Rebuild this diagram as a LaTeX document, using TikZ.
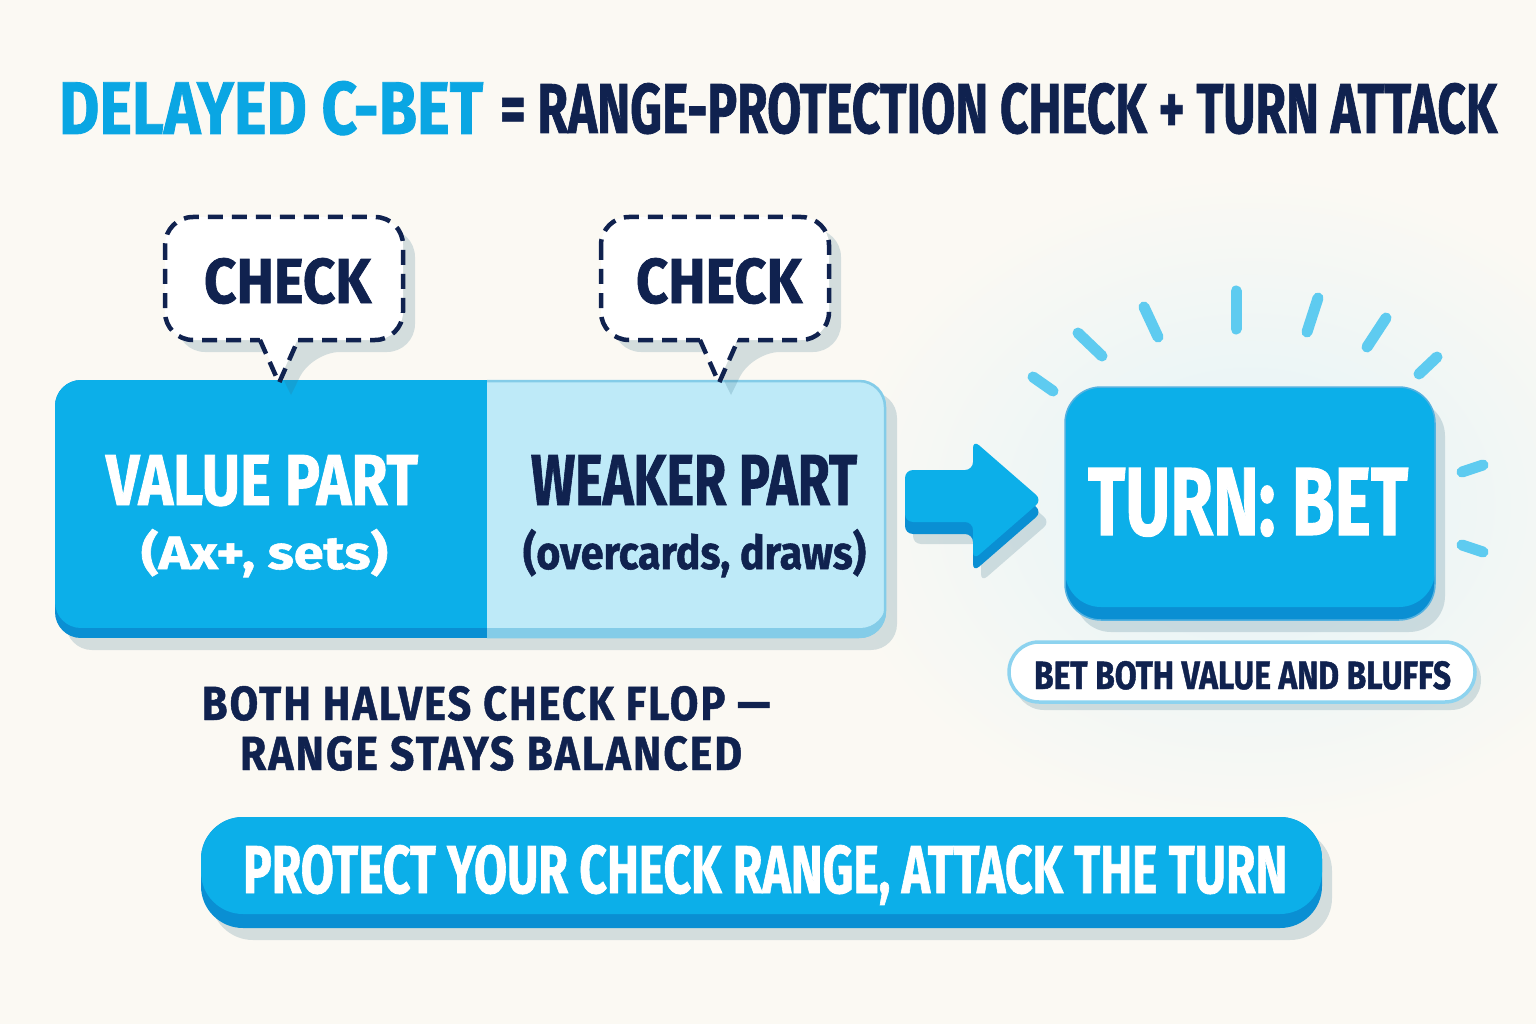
\documentclass[tikz,border=0pt]{standalone}
\usepackage{fontspec}
\usepackage{graphicx}
\setmainfont{Fira Sans}
\newfontfamily\hv{Fira Sans Bold}[FakeBold=1.2]
\newfontfamily\hvs{Fira Sans Bold}[FakeBold=1.0,LetterSpace=5]
\definecolor{bg}{HTML}{FBF9F3}
\definecolor{cy}{HTML}{0CAFE9}
\definecolor{cydark}{HTML}{0A8FD3}
\definecolor{cytitle}{HTML}{0AA6E3}
\definecolor{lt}{HTML}{BEEAF8}
\definecolor{ltdark}{HTML}{84CCE8}
\definecolor{navy}{HTML}{10224F}
\definecolor{raycol}{HTML}{5ECBF0}
\definecolor{shadowc}{HTML}{336D85}
\definecolor{glowc}{HTML}{E2F3F8}
\definecolor{capborder}{HTML}{8DD3EF}
\newcommand\fitc[3]{\resizebox{#1pt}{#2pt}{\hv #3}}
\newcommand\fits[3]{\resizebox{#1pt}{#2pt}{\hvs #3}}
\tikzset{
  txt/.style={inner sep=0pt, outer sep=0pt, anchor=base west},
  ray/.style={draw=raycol, line width=11pt, line cap=round},
  bubble/.style={draw=navy, line width=4.5pt, dash pattern=on 15pt off 9pt},
  shadowfill/.style={fill=shadowc, fill opacity=0.2},
}
\begin{document}
\begin{tikzpicture}[x=1pt,y=-1pt]
\fill[bg] (0,0) rectangle (1536,1024);
\useasboundingbox (0,0) rectangle (1536,1024);

% soft glow behind turn box
\shade[inner color=glowc, outer color=bg] (1250,505) ellipse [x radius=420, y radius=330];

% title
\node[txt, text=cytitle] (t1) at (59,134) {\fitc{424}{53}{DELAYED C-BET}};
\node[txt, text=navy] (t2) at (500,133) {\fitc{997}{50}{= RANGE-PROTECTION CHECK + TURN ATTACK}};

% main bar
\fill[shadowfill, rounded corners=26] (66,392) rectangle (897,650);
\begin{scope}
  \clip[rounded corners=26] (55,380) rectangle (886,638);
  \fill[cydark] (55,380) rectangle (487,638);
  \fill[ltdark] (487,380) rectangle (886,638);
  \clip[rounded corners=26] (55,380) rectangle (886,628);
  \fill[cy] (55,380) rectangle (487,628);
  \fill[lt] (487,380) rectangle (886,628);
\end{scope}
\begin{scope}
  \clip (487,370) rectangle (900,650);
  \draw[ltdark, line width=2.5pt, rounded corners=26] (55,381) rectangle (885,637);
\end{scope}
\node[txt, text=white] (v1) at (106,505) {\fitc{312}{50}{VALUE PART}};
\node[txt, text=white] (v2) at (141,569) {\fitc{247}{40}{(Ax+, sets)}};
\node[txt, text=navy] (w1) at (531,505) {\fitc{326}{50}{WEAKER PART}};
\node[txt, text=navy] (w2) at (523,569) {\fitc{343}{40}{(overcards, draws)}};

% left bubble
\fill[shadowfill, rounded corners=28] (177,229) -- (415,229) -- (415,352) -- (312,352) [sharp corners] -- (291,395) -- (270,352) [rounded corners=28] -- (177,352) -- cycle;
\draw[bubble, fill=white, rounded corners=28] (165,217) rectangle (403,340);
\fill[white] (258,334) -- (300,334) -- (279,381) -- cycle;
\draw[bubble, line join=round] (260,340) -- (279,383) -- (298,340);
\node[txt, text=navy] (c1) at (204,303) {\fitc{167}{45}{CHECK}};

% right bubble
\fill[shadowfill, rounded corners=28] (613,229) -- (841,229) -- (841,352) -- (752,352) [sharp corners] -- (731,395) -- (710,352) [rounded corners=28] -- (613,352) -- cycle;
\draw[bubble, fill=white, rounded corners=28] (601,217) rectangle (829,340);
\fill[white] (698,334) -- (740,334) -- (719,381) -- cycle;
\draw[bubble, line join=round] (700,340) -- (719,383) -- (738,340);
\node[txt, text=navy] (c2) at (636,303) {\fitc{166}{45}{CHECK}};

% block arrow
\def\arrowpath{(905,470) -- (973,470) -- (973,440) -- (1042,500) -- (973,560) -- (973,522) -- (905,522) -- cycle}
\fill[shadowfill, rounded corners=8, shift={(8,22)}] \arrowpath;
\fill[cydark, rounded corners=8, shift={(0,12)}] \arrowpath;
\fill[cy, rounded corners=8] \arrowpath;

% turn box
\fill[shadowfill, rounded corners=36] (1075,400) rectangle (1445,632);
\fill[cydark, rounded corners=36] (1065,387) rectangle (1435,620);
\fill[cy, rounded corners=36] (1065,387) rectangle (1435,607);
\draw[cydark!70, line width=1.5pt, rounded corners=36] (1065,387) rectangle (1435,620);
\node[txt, text=white] (tb) at (1088,535) {\fitc{320}{67}{TURN: BET}};

% rays
\draw[ray] (1033,377) -- (1053,391);
\draw[ray] (1078,333) -- (1102,356);
\draw[ray] (1144,307) -- (1158,337);
\draw[ray] (1236,291) -- (1236,329);
\draw[ray] (1318,298) -- (1307,332);
\draw[ray] (1386,318) -- (1367,347);
\draw[ray] (1437,357) -- (1419,374);
\draw[ray] (1462,472) -- (1483,465);
\draw[ray] (1462,545) -- (1483,552);

% caption under turn box
\fill[shadowfill, rounded corners=30] (1014,650) rectangle (1481,710);
\draw[capborder, line width=3.5pt, fill=white, rounded corners=30] (1009,642) rectangle (1475,702);
\node[txt, text=navy] (cap) at (1034,689) {\fitc{417}{28}{BET BOTH VALUE AND BLUFFS}};

% both halves text
\node[txt, text=navy] (b1) at (202,720) {\fits{568}{34}{BOTH HALVES CHECK FLOP —}};
\node[txt, text=navy] (b2) at (240,770) {\fits{502}{34}{RANGE STAYS BALANCED}};

% bottom banner
\fill[shadowfill, rounded corners=42] (211,829) rectangle (1332,940);
\fill[cydark, rounded corners=42] (201,817) rectangle (1322,928);
\fill[cy, rounded corners=42] (201,817) rectangle (1322,914);
\node[txt, text=white] (pr) at (243,893) {\fitc{1044}{48}{PROTECT YOUR CHECK RANGE, ATTACK THE TURN}};
\end{tikzpicture}
\end{document}
